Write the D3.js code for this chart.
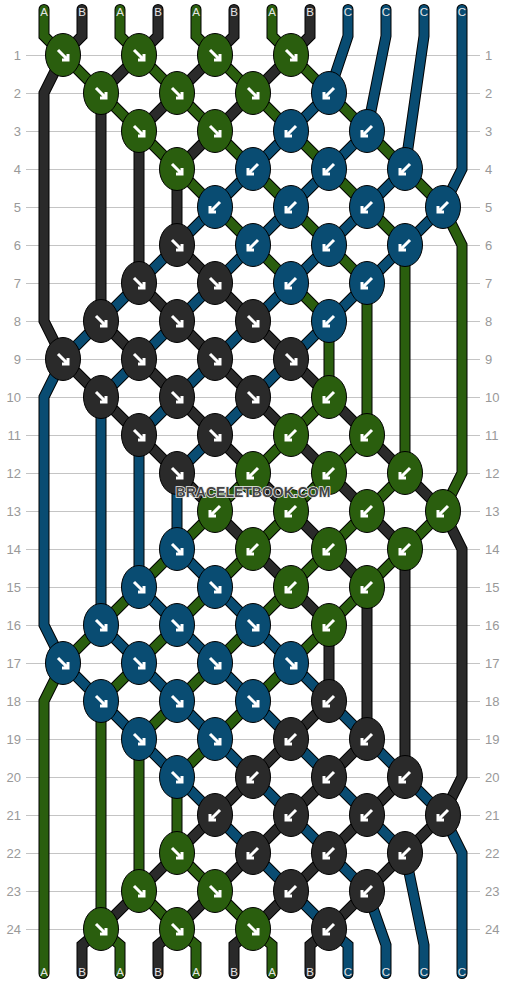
<!DOCTYPE html>
<html>
<head>
<meta charset="utf-8">
<script src="https://cdnjs.cloudflare.com/ajax/libs/d3/7.8.5/d3.min.js"></script>
<style>
  html, body { margin: 0; padding: 0; background: #fff; }
  svg { display: block; }
  /* keeps the small text grey instead of colour fringed */
  .labels { opacity: 0.999; }
</style>
</head>
<body>
<div id="chart"></div>
<script>
// thread letters along the top, left to right
var threadLabels = ["A","B","A","B","A","B","A","B","C","C","C","C"];

var threadColors = { A: "#2a5e0e", B: "#2a2a2a", C: "#094c72" };

var rowNumbers = d3.range(1, 25);

// first thread position of each row (every row has 4 knots, two positions apart)
var rowStart = [0,1,2,3,4,3,2,1,0,1,2,3,4,3,2,1,0,1,2,3,4,3,2,1];

// knot direction per row: R = arrow to the lower right, L = to the lower left
var rowKnots = [
  "RRRR","RRRL","RRLL","RLLL","LLLL","RLLL","RRLL","RRRL",
  "RRRR","RRRL","RRLL","RLLL","LLLL","RLLL","RRLL","RRRL",
  "RRRR","RRRL","RRLL","RLLL","LLLL","RLLL","RRLL","RRRL"
];

var width = 506, height = 984;
var svg = d3.select("#chart").append("svg")
    .attr("width", width)
    .attr("height", height);

// x is measured in thread positions, y in rows
var x = d3.scaleLinear().domain([0, 11]).range([44, 462]);
var y = d3.scaleLinear().domain([1, 24]).range([55, 929]);

var topEnd = 9.5, topBend = 36, bottomBend = 945, bottomEnd = 973.5;

// walk the rows, swapping threads at each knot
var strands = threadLabels.map(function(label, i) {
  return { label: label, start: i, points: [[x(i), topEnd]], lastRow: null };
});
var order = strands.slice();
var knots = [];

function isOuter(pos) { return pos === 0 || pos === 11; }

function addKnot(strand, pos, kx, row) {
  if (strand.lastRow === null) {
    var bend = (isOuter(pos) && row > 1) ? y(row - 1) : topBend;
    strand.points.push([x(pos), bend]);
  } else if (isOuter(pos) && row - strand.lastRow > 1) {
    // edge threads run down the side between two visits
    strand.points.push([x(pos), y(strand.lastRow + 1)]);
    strand.points.push([x(pos), y(row - 1)]);
  }
  strand.points.push([kx, y(row)]);
  strand.lastRow = row;
}

rowKnots.forEach(function(dirs, r) {
  var row = rowNumbers[r];
  dirs.split("").forEach(function(dir, k) {
    var pos = rowStart[r] + k * 2;
    var kx = x(pos + 0.5);
    var left = order[pos], right = order[pos + 1];
    addKnot(left, pos, kx, row);
    addKnot(right, pos + 1, kx, row);
    knots.push({ x: kx, y: y(row), dir: dir, color: threadColors[dir === "R" ? left.label : right.label] });
    order[pos] = right;
    order[pos + 1] = left;
  });
});

order.forEach(function(strand, pos) {
  var bend = isOuter(pos) ? y(strand.lastRow + 1) : bottomBend;
  strand.points.push([x(pos), bend]);
  strand.points.push([x(pos), bottomEnd]);
  strand.endPos = pos;
});

// row grid and numbers on both sides
var axisLeft = d3.axisLeft(y).tickValues(rowNumbers).tickFormat(d3.format("d")).tickSize(0).tickPadding(0);
var axisRight = d3.axisRight(y).tickValues(rowNumbers).tickFormat(d3.format("d")).tickSize(0).tickPadding(0);

svg.append("g").attr("class", "grid").selectAll("line")
    .data(rowNumbers)
  .enter().append("line")
    .attr("x1", 26).attr("x2", 480)
    .attr("y1", function(d) { return y(d) + 0.5; })
    .attr("y2", function(d) { return y(d) + 0.5; })
    .attr("stroke", "#c4c4c4")
    .attr("stroke-width", 1);

svg.append("g").attr("class", "labels").attr("transform", "translate(21,0)").call(axisLeft)
    .call(function(g) { g.select(".domain").remove(); })
    .selectAll("text").attr("fill", "#999").attr("font-size", 13).attr("font-family", "Liberation Sans");

svg.append("g").attr("class", "labels").attr("transform", "translate(485,0)").call(axisRight)
    .call(function(g) { g.select(".domain").remove(); })
    .selectAll("text").attr("fill", "#999").attr("font-size", 13).attr("font-family", "Liberation Sans");

// threads
var line = d3.line();
var threads = svg.append("g").attr("class", "threads");

threads.selectAll("path.edge")
    .data(strands)
  .enter().append("path")
    .attr("class", "edge")
    .attr("d", function(d) { return line(d.points); })
    .attr("fill", "none")
    .attr("stroke", "#000")
    .attr("stroke-width", 11)
    .attr("stroke-linecap", "round")
    .attr("stroke-linejoin", "miter");

threads.selectAll("path.core")
    .data(strands)
  .enter().append("path")
    .attr("class", "core")
    .attr("d", function(d) { return line(d.points); })
    .attr("fill", "none")
    .attr("stroke", function(d) { return threadColors[d.label]; })
    .attr("stroke-width", 9)
    .attr("stroke-linecap", "round")
    .attr("stroke-linejoin", "miter");

// thread letters, top and bottom
var letterStyle = function(sel) {
  sel.attr("fill", "#e6e6e6")
     .attr("font-size", 11.5)
     .attr("font-family", "Liberation Sans")
     .attr("text-anchor", "middle");
};

svg.append("g").attr("class", "labels").selectAll("text")
    .data(strands)
  .enter().append("text")
    .attr("x", function(d) { return x(d.start); })
    .attr("y", 16)
    .text(function(d) { return d.label; })
    .call(letterStyle);

svg.append("g").attr("class", "labels").selectAll("text")
    .data(strands)
  .enter().append("text")
    .attr("x", function(d) { return x(d.endPos); })
    .attr("y", 976)
    .text(function(d) { return d.label; })
    .call(letterStyle);

// knots with direction arrows
var knot = svg.append("g").attr("class", "knots").selectAll("g")
    .data(knots)
  .enter().append("g")
    .attr("transform", function(d) { return "translate(" + d.x + "," + d.y + ")"; });

knot.append("ellipse")
    .attr("rx", 17.5)
    .attr("ry", 21.5)
    .attr("fill", function(d) { return d.color; })
    .attr("stroke", "#000")
    .attr("stroke-width", 1);

// arrow drawn pointing lower right, mirrored for L
knot.append("path")
    .attr("d", "M-5,-5L5,5M5,-1L5,5L-1,5")
    .attr("transform", function(d) { return d.dir === "L" ? "scale(-1,1)" : null; })
    .attr("fill", "none")
    .attr("stroke", "#fff")
    .attr("stroke-width", 3);

svg.append("text")
    .attr("class", "labels")
    .attr("x", 253)
    .attr("y", 497)
    .attr("text-anchor", "middle")
    .attr("font-family", "Liberation Sans")
    .attr("font-weight", "bold")
    .attr("font-size", 14)
    .attr("fill", "#444")
    .attr("stroke", "#eee")
    .attr("stroke-width", 1.5)
    .attr("paint-order", "stroke")
    .text("BRACELETBOOK.COM");
</script>
</body>
</html>
